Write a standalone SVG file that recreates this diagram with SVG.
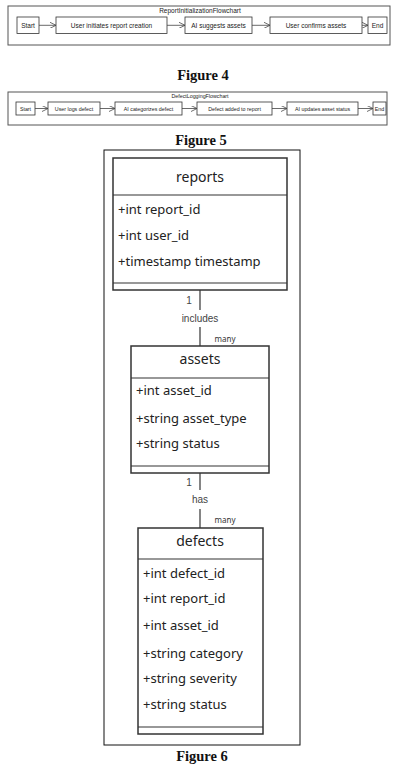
<svg xmlns="http://www.w3.org/2000/svg" width="405" height="768" viewBox="0 0 405 768">
<style>
.frame{fill:#fff;stroke:#555;stroke-width:1}
.fn{fill:#fff;stroke:#333;stroke-width:0.8}
.ft{font-family:"Liberation Sans",Arial,sans-serif;font-size:6.5px;fill:#222;text-anchor:middle;dominant-baseline:central}
.ft5{font-family:"Liberation Sans",Arial,sans-serif;font-size:5.3px;fill:#222;text-anchor:middle;dominant-baseline:central}
.conn{stroke:#444;stroke-width:0.8;fill:none}
.cap{font-family:"Liberation Serif","Times New Roman",serif;font-weight:bold;font-size:14.5px;fill:#111;text-anchor:middle}
.er{fill:#fff;stroke:#333;stroke-width:1.5}
.erl{stroke:#333;stroke-width:1.2;fill:none}
.eh{font-family:"Comic Sans MS","Noto Sans",sans-serif;font-size:14px;fill:#222;text-anchor:middle;dominant-baseline:central}
.ea{font-family:"Comic Sans MS","Noto Sans",sans-serif;font-size:13px;fill:#222;dominant-baseline:central}
.el{font-family:"Liberation Sans",Arial,sans-serif;font-size:10px;fill:#444;text-anchor:middle;dominant-baseline:central}
.em{font-family:"Comic Sans MS","Noto Sans",sans-serif;font-size:8px;fill:#333;text-anchor:middle;dominant-baseline:central}
</style>
<defs>
<marker id="oa" viewBox="0 0 10 10" refX="10" refY="5" markerWidth="6" markerHeight="6" orient="auto" markerUnits="userSpaceOnUse">
<path d="M0,0 L10,5 L0,10" fill="none" stroke="#444" stroke-width="1.3"/>
</marker>
</defs>
<rect width="405" height="768" fill="#fff"/>

<!-- Figure 4 -->
<g id="fig4">
<rect class="frame" x="8" y="6" width="382" height="39"/>
<text class="ft" x="200" y="10.5">ReportInitializationFlowchart</text>
</g>
<g id="f4-start"><rect class="fn" x="17" y="17" width="22" height="16.5"/><text class="ft" x="28" y="25.3">Start</text></g>
<g id="f4-init"><rect class="fn" x="56" y="17" width="111" height="16.5"/><text class="ft" x="111.5" y="25.3">User initiates report creation</text></g>
<g id="f4-ai"><rect class="fn" x="185" y="17" width="67" height="16.5"/><text class="ft" x="218.5" y="25.3">AI suggests assets</text></g>
<g id="f4-confirm"><rect class="fn" x="270" y="17" width="92" height="16.5"/><text class="ft" x="316" y="25.3">User confirms assets</text></g>
<g id="f4-end"><rect class="fn" x="368" y="17" width="19" height="16.5"/><text class="ft" x="377.5" y="25.3">End</text></g>
<g id="f4-connectors">
<line class="conn" x1="39" y1="25.3" x2="56" y2="25.3" marker-end="url(#oa)"/>
<line class="conn" x1="167" y1="25.3" x2="185" y2="25.3" marker-end="url(#oa)"/>
<line class="conn" x1="252" y1="25.3" x2="270" y2="25.3" marker-end="url(#oa)"/>
<line class="conn" x1="362" y1="25.3" x2="368" y2="25.3" marker-end="url(#oa)"/>
</g>
<text class="cap" x="203" y="80">Figure 4</text>

<!-- Figure 5 -->
<g id="fig5">
<rect class="frame" x="8" y="92" width="379" height="33"/>
<text class="ft5" x="200" y="95.5">DefectLoggingFlowchart</text>
</g>
<g id="f5-start"><rect class="fn" x="16" y="102" width="19" height="13"/><text class="ft5" x="25.5" y="108.5">Start</text></g>
<g id="f5-log"><rect class="fn" x="48" y="102" width="52" height="13"/><text class="ft5" x="74" y="108.5">User logs defect</text></g>
<g id="f5-cat"><rect class="fn" x="115" y="102" width="67" height="13"/><text class="ft5" x="148.5" y="108.5">AI categorizes defect</text></g>
<g id="f5-add"><rect class="fn" x="197" y="102" width="75" height="13"/><text class="ft5" x="234.5" y="108.5">Defect added to report</text></g>
<g id="f5-upd"><rect class="fn" x="287" y="102" width="71" height="13"/><text class="ft5" x="322.5" y="108.5">AI updates asset status</text></g>
<g id="f5-end"><rect class="fn" x="373" y="102" width="13" height="13"/><text class="ft5" x="379.5" y="108.5">End</text></g>
<g id="f5-connectors">
<line class="conn" x1="35" y1="108.5" x2="48" y2="108.5" marker-end="url(#oa)"/>
<line class="conn" x1="100" y1="108.5" x2="115" y2="108.5" marker-end="url(#oa)"/>
<line class="conn" x1="182" y1="108.5" x2="197" y2="108.5" marker-end="url(#oa)"/>
<line class="conn" x1="272" y1="108.5" x2="287" y2="108.5" marker-end="url(#oa)"/>
<line class="conn" x1="358" y1="108.5" x2="373" y2="108.5" marker-end="url(#oa)"/>
</g>
<text class="cap" x="201" y="145">Figure 5</text>

<!-- Figure 6 -->
<rect x="104" y="150" width="196" height="595" fill="#fff" stroke="#111" stroke-width="1"/>

<g id="er-connectors">
<line class="erl" x1="200" y1="290" x2="200" y2="310"/>
<line class="erl" x1="200" y1="327" x2="200" y2="346"/>
<line class="erl" x1="200" y1="473" x2="200" y2="490"/>
<line class="erl" x1="200" y1="509" x2="200" y2="528"/>
<text class="el" x="189" y="300">1</text>
<text class="el" x="200" y="318">includes</text>
<text class="em" x="225" y="338">many</text>
<text class="el" x="189" y="482">1</text>
<text class="el" x="200" y="499">has</text>
<text class="em" x="225" y="519">many</text>
</g>

<g id="reports">
<rect class="er" x="113" y="158" width="174" height="132"/>
<line class="erl" x1="113" y1="195" x2="287" y2="195"/>
<line class="erl" x1="113" y1="283" x2="287" y2="283"/>
<text class="eh" x="200" y="176">reports</text>
<text class="ea" x="118" y="209">+int report_id</text>
<text class="ea" x="118" y="235">+int user_id</text>
<text class="ea" x="118" y="261">+timestamp timestamp</text>
</g>

<g id="assets">
<rect class="er" x="131" y="346" width="138" height="127"/>
<line class="erl" x1="131" y1="378" x2="269" y2="378"/>
<line class="erl" x1="131" y1="466" x2="269" y2="466"/>
<text class="eh" x="200" y="358">assets</text>
<text class="ea" x="136" y="390">+int asset_id</text>
<text class="ea" x="136" y="418">+string asset_type</text>
<text class="ea" x="136" y="443">+string status</text>
</g>

<g id="defects">
<rect class="er" x="138" y="528" width="125" height="206"/>
<line class="erl" x1="138" y1="559" x2="263" y2="559"/>
<line class="erl" x1="138" y1="727" x2="263" y2="727"/>
<text class="eh" x="200" y="540">defects</text>
<text class="ea" x="143" y="573">+int defect_id</text>
<text class="ea" x="143" y="598">+int report_id</text>
<text class="ea" x="143" y="625">+int asset_id</text>
<text class="ea" x="143" y="653">+string category</text>
<text class="ea" x="143" y="678">+string severity</text>
<text class="ea" x="143" y="704">+string status</text>
</g>
<text class="cap" x="202" y="761">Figure 6</text>
</svg>
